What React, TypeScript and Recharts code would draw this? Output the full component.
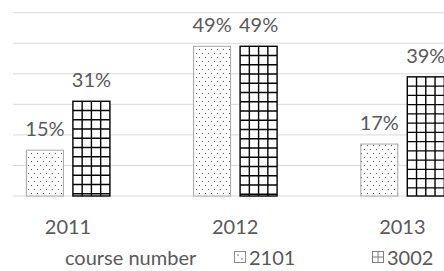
import { BarChart, Bar, XAxis, YAxis, CartesianGrid, LabelList, Legend } from "recharts";

const years = ["2011", "2012", "2013"];
const course2101 = [15, 49, 17];
const course3002 = [31, 49, 39];
const yTicks = [0, 10, 20, 30, 40, 50, 60];

const data = years.map((year, i) => ({ idx: i, year, c2101: course2101[i], c3002: course3002[i] }));

const FONT = "Lato, 'Open Sans', sans-serif";
const TEXT = "#595959";

function DotBar(props: any) {
  const { x, y, width, height } = props;
  return <rect x={x} y={y} width={width} height={height} fill="url(#dots)" stroke="#a6a6a6" strokeWidth={1} />;
}

// grid hatch drawn per bar so each bar gets 4 columns like the original
function GridBar(props: any) {
  const { x, y, width, height } = props;
  const cols = 4;
  const cell = width / cols;
  const lines = [];
  for (let i = 1; i < cols; i++) {
    lines.push(<line key={"v" + i} x1={x + i * cell} x2={x + i * cell} y1={y} y2={y + height} />);
  }
  for (let yy = y + cell; yy < y + height - 1; yy += cell) {
    lines.push(<line key={"h" + yy} x1={x} x2={x + width} y1={yy} y2={yy} />);
  }
  return (
    <g stroke="#000" strokeWidth={1.4}>
      <rect x={x} y={y} width={width} height={height} fill="#fff" />
      {lines}
    </g>
  );
}

function LegendIcon({ kind }: { kind: string }) {
  if (kind === "c2101") {
    return (
      <svg width={12} height={12} style={{ marginRight: 3 }}>
        <rect x={0.5} y={0.5} width={11} height={11} fill="#fff" stroke="#8c8c8c" />
        <circle cx={4} cy={4} r={0.8} fill="#666" />
        <circle cx={8} cy={8} r={0.8} fill="#666" />
      </svg>
    );
  }
  return (
    <svg width={12} height={12} style={{ marginRight: 3 }}>
      <g stroke="#7f7f7f" strokeWidth={1}>
        <rect x={0.5} y={0.5} width={11} height={11} fill="#fff" />
        <line x1={6} x2={6} y1={0.5} y2={11.5} />
        <line x1={0.5} x2={11.5} y1={6} y2={6} />
      </g>
    </svg>
  );
}

function CourseLegend(props: any) {
  const items = props.payload || [];
  const lefts = [234, 372];
  return (
    <div style={{ position: "relative", width: 444, height: 30, fontFamily: FONT, fontSize: 20, color: TEXT }}>
      <span style={{ position: "absolute", left: 65, top: 3, lineHeight: "26px" }}>course number</span>
      {items.map((it: any, i: number) => (
        <span
          key={it.dataKey}
          style={{ position: "absolute", left: lefts[i], top: 3, lineHeight: "26px", display: "flex", alignItems: "center" }}
        >
          <LegendIcon kind={it.dataKey} />
          {it.value}
        </span>
      ))}
    </div>
  );
}

export default function App() {
  return (
    <div style={{ position: "absolute", left: 0, top: 0, background: "#fff" }}>
      <BarChart width={444} height={271} data={data} margin={{ top: 12.7, right: 0, left: 13, bottom: 0 }} barGap={9.5}>
        <defs>
          <pattern id="dots" width={6} height={8} patternUnits="userSpaceOnUse">
            <rect width={6} height={8} fill="#fff" />
            <circle cx={1.5} cy={1.5} r={0.6} fill="#404040" />
            <circle cx={4.5} cy={5.5} r={0.6} fill="#404040" />
          </pattern>
        </defs>
        <CartesianGrid vertical={false} stroke="#d9d9d9" strokeWidth={1} />
        <YAxis hide domain={[0, 60]} ticks={yTicks} />
        <XAxis
          type="number"
          dataKey="idx"
          domain={[-0.329, 2.249]}
          allowDataOverflow
          ticks={[0, 1, 2]}
          tickFormatter={(i: number) => years[i]}
          axisLine={false}
          tickLine={false}
          tickSize={0}
          tickMargin={24}
          height={45}
          tick={{ fill: TEXT, fontSize: 20, fontFamily: FONT }}
        />
        <Legend verticalAlign="bottom" wrapperStyle={{ left: 0, bottom: 0, width: 444 }} content={<CourseLegend />} />
        <Bar dataKey="c2101" name="2101" barSize={37} shape={<DotBar />} isAnimationActive={false}>
          <LabelList dataKey="c2101" position="top" offset={14} formatter={(v: any) => v + "%"} fill={TEXT} fontSize={20} fontFamily={FONT} />
        </Bar>
        <Bar dataKey="c3002" name="3002" barSize={37} shape={<GridBar />} isAnimationActive={false}>
          <LabelList dataKey="c3002" position="top" offset={14} formatter={(v: any) => v + "%"} fill={TEXT} fontSize={20} fontFamily={FONT} />
        </Bar>
      </BarChart>
    </div>
  );
}
